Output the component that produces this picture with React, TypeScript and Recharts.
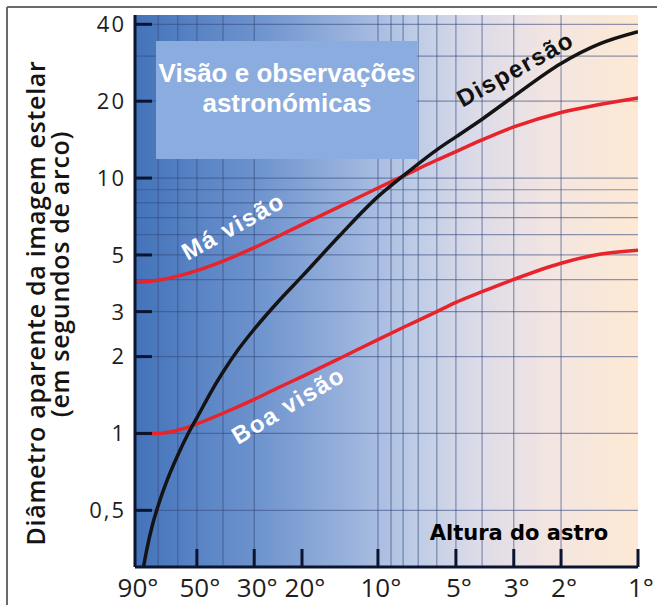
import { CartesianGrid, Line, LineChart, XAxis, YAxis } from "recharts";

// escala horizontal (não uniforme) do gráfico original: altura do astro -> posição 0..100 no eixo
const escalaAltura = [90, 70, 60, 50, 40, 30, 20, 10, 9, 8, 7, 6, 5, 4, 3, 2, 1];
const escalaPosicao = [0, 4.6, 8.5, 12.3, 17.5, 23.7, 33.2, 48.3, 50.9, 53.3, 56.3, 60.0, 63.8, 69.0, 75.3, 84.7, 100];

const rotulosX = [90, 50, 30, 20, 10, 5, 3, 2, 1];
const rotulosY = [0.5, 1, 2, 3, 5, 10, 20, 40];
const gradeX = [70, 60, 50, 40, 30, 10, 9, 8, 7, 6, 5, 4, 3, 2];
const gradeY = [0.5, 1, 2, 3, 4, 5, 6, 7, 8, 9, 10, 20, 30, 40];

const alturas = [90, 70, 60, 50, 40, 30, 25, 20, 15, 10, 8, 6, 5, 4, 3, 2, 1.5, 1];
const maVisao = [3.9, 3.98, 4.13, 4.34, 4.73, 5.34, 5.92, 6.57, 7.75, 9.14, 10.18, 11.77, 12.7, 14.1, 15.85, 18.07, 19.4, 20.6];
const boaVisao = [1.0, 1.0, 1.03, 1.09, 1.2, 1.36, 1.51, 1.67, 1.97, 2.33, 2.6, 3.0, 3.26, 3.59, 4.01, 4.64, 5.03, 5.22];

const dispersaoAlturas = [85, 80, 75, 70, 65, 60, 55, 50, 45, 40, 35, 30, 25, 20, 15, 10, 8, 6, 5, 4, 3, 2, 1.5, 1];
const dispersao = [
  0.26, 0.348, 0.437, 0.521, 0.668, 0.822, 0.984, 1.15, 1.43, 1.74, 2.14, 2.56,
  3.28, 4.12, 5.97, 8.46, 10.2, 12.9, 14.5, 17.0, 20.9, 28.1, 33.5, 37.4,
];

const posicao = (alt: number) => {
  for (let i = 0; i < escalaAltura.length - 1; i++) {
    const a0 = escalaAltura[i];
    const a1 = escalaAltura[i + 1];
    if (alt <= a0 && alt >= a1) {
      return escalaPosicao[i] + ((a0 - alt) / (a0 - a1)) * (escalaPosicao[i + 1] - escalaPosicao[i]);
    }
  }
  return alt > escalaAltura[0] ? 0 : 100;
};

const serie = (alts: number[], vals: number[]) => alts.map((a, i) => ({ x: posicao(a), v: vals[i] }));

const dadosDispersao = serie(dispersaoAlturas, dispersao);
const dadosMa = serie(alturas, maVisao);
const dadosBoa = serie(alturas, boaVisao);

const eixoCor = "#0c1530";
const fonteTicks = "'Open Sans', 'DejaVu Sans', sans-serif";

const TickY = (props: any) => {
  const { x, y, payload } = props;
  return (
    <g>
      <line x1={x + 9} x2={x + 26} y1={y} y2={y} stroke={eixoCor} strokeWidth={3} />
      <text
        x={x}
        y={y}
        dy="0.36em"
        textAnchor="end"
        fontFamily={fonteTicks}
        fontSize={22}
        letterSpacing={2}
        fill="#1e1e1e"
      >
        {String(payload.value).replace(".", ",")}
      </text>
    </g>
  );
};

const TickX = (props: any) => {
  const { x, y, index } = props;
  return (
    <g>
      {index > 0 && <line x1={x} x2={x} y1={y - 8} y2={y - 26} stroke={eixoCor} strokeWidth={3} />}
      <text x={x + 3} y={y} dy={22} textAnchor="middle" fontFamily={fonteTicks} fontSize={26} fill="#1e1e1e">
        {`${rotulosX[index]}°`}
      </text>
    </g>
  );
};

const Sobreposicao = () => (
  <svg
    width={657}
    height={605}
    style={{ position: "absolute", left: 0, top: 0, pointerEvents: "none" }}
  >
    <line x1={7} y1={7} x2={657} y2={7} stroke="#6a6a6a" strokeWidth={2} />
    <line x1={7} y1={7} x2={7} y2={605} stroke="#6a6a6a" strokeWidth={2} />

    <g fontFamily="'Open Sans', sans-serif" fontWeight={600} fontSize={25} fill="#141414" letterSpacing={0.7}>
      <text x={35} y={303} textAnchor="middle" dominantBaseline="central" transform="rotate(-90 35 303)">
        Diâmetro aparente da imagem estelar
      </text>
      <text x={59} y={274} textAnchor="middle" dominantBaseline="central" transform="rotate(-90 59 274)">
        (em segundos de arco)
      </text>
    </g>

    <rect x={156} y={41} width={261} height={118} fill="#8bacde" />
    <g fontFamily="'Liberation Sans', Arial, sans-serif" fontWeight={700} fontSize={26} fill="#ffffff" textAnchor="middle">
      <text x={287} y={82}>Visão e observações</text>
      <text x={287} y={112}>astronómicas</text>
    </g>

    <g fontFamily="'Liberation Sans', Arial, sans-serif" fontWeight={700} fontSize={24} letterSpacing={1.5}>
      <text x={515} y={69} textAnchor="middle" dominantBaseline="central" fill="#111" transform="rotate(-29 515 69)">
        Dispersão
      </text>
      <text x={233} y={226} textAnchor="middle" dominantBaseline="central" fill="#fff" transform="rotate(-29 233 226)">
        Má visão
      </text>
      <text x={288} y={405} textAnchor="middle" dominantBaseline="central" fill="#fff" transform="rotate(-31 288 405)">
        Boa visão
      </text>
    </g>

    <text x={519} y={540} textAnchor="middle" fontFamily="'DejaVu Sans', Verdana, sans-serif" fontWeight={700} fontSize={21} fill="#000">
      Altura do astro
    </text>
  </svg>
);

export default function App() {
  return (
    <div style={{ position: "absolute", left: 0, top: 0, width: 657, height: 605, background: "#fff" }}>
      <LineChart width={657} height={605} margin={{ top: 15, right: 19, bottom: 0, left: 0 }}>
        <defs>
          <linearGradient id="fundo" x1="0" y1="0" x2="1" y2="0">
            <stop offset="0%" stopColor="#4373ba" />
            <stop offset="25%" stopColor="#6f94ce" />
            <stop offset="45%" stopColor="#9fb6de" />
            <stop offset="55%" stopColor="#bccbe6" />
            <stop offset="68%" stopColor="#dcdbe8" />
            <stop offset="82%" stopColor="#f2e5e2" />
            <stop offset="100%" stopColor="#fde9d4" />
          </linearGradient>
        </defs>
        <CartesianGrid
          fill="url(#fundo)"
          fillOpacity={1}
          stroke="#34497d"
          strokeOpacity={0.55}
          strokeWidth={1.2}
          horizontalValues={gradeY}
          verticalValues={gradeX.map(posicao)}
        />
        <XAxis
          type="number"
          dataKey="x"
          domain={[0, 100]}
          allowDataOverflow
          ticks={rotulosX.map(posicao)}
          interval={0}
          height={38}
          tickSize={0}
          tickMargin={8}
          tickLine={false}
          axisLine={{ stroke: eixoCor, strokeWidth: 3 }}
          tick={<TickX />}
        />
        <YAxis
          type="number"
          scale="log"
          domain={[0.3, 43.5]}
          allowDataOverflow
          ticks={rotulosY}
          interval={0}
          width={135}
          tickSize={0}
          tickMargin={9}
          tickLine={false}
          axisLine={{ stroke: eixoCor, strokeWidth: 3 }}
          tick={<TickY />}
        />
        <Line data={dadosMa} dataKey="v" type="monotone" stroke="#e8232b" strokeWidth={3.5} dot={false} isAnimationActive={false} />
        <Line data={dadosBoa} dataKey="v" type="monotone" stroke="#e8232b" strokeWidth={3.5} dot={false} isAnimationActive={false} />
        <Line data={dadosDispersao} dataKey="v" type="monotone" stroke="#141414" strokeWidth={3.5} dot={false} isAnimationActive={false} />
      </LineChart>
      <Sobreposicao />
    </div>
  );
}
